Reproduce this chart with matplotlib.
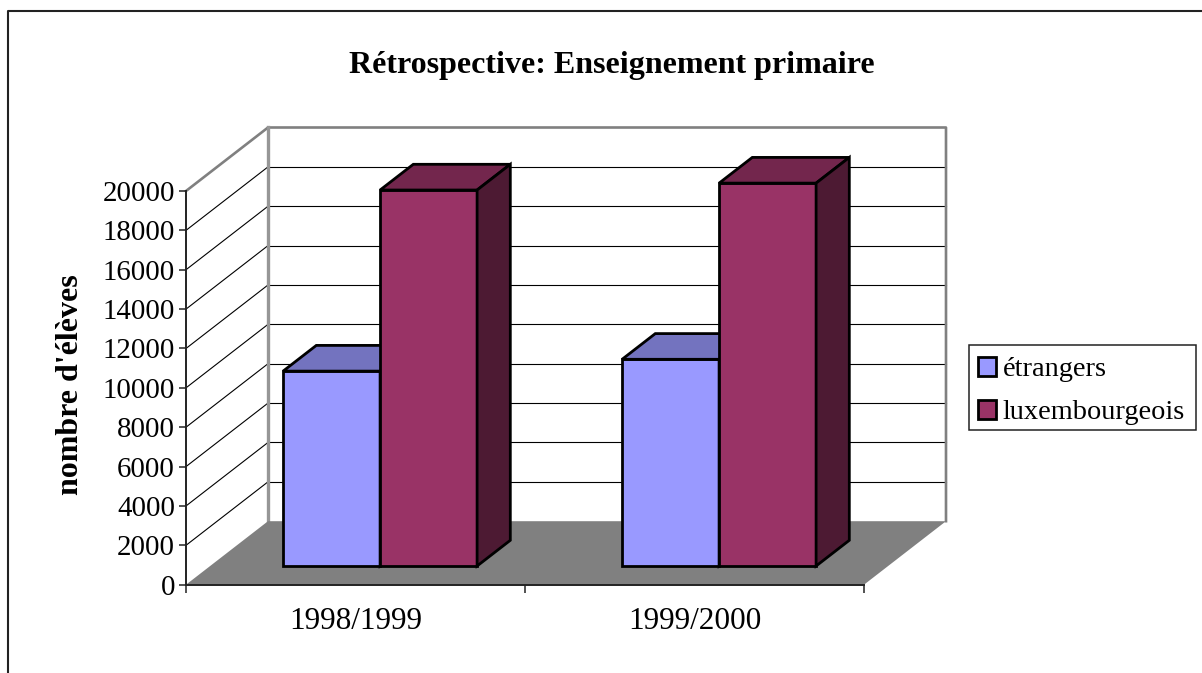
import matplotlib
matplotlib.use('Agg')
import matplotlib.pyplot as plt
from matplotlib.patches import Patch, Rectangle
from matplotlib.lines import Line2D

plt.rcParams['font.family'] = ['Liberation Serif', 'DejaVu Serif']

categories = ['1998/1999', '1999/2000']
etrangers = [9900, 10500]
luxembourgeois = [19100, 19450]
y_ticks = [0, 2000, 4000, 6000, 8000, 10000, 12000, 14000, 16000, 18000, 20000]

W, H = 1202, 673
BLUE = ('#9999FF', '#7373BF', '#4D4D80')
WINE = ('#993366', '#73264D', '#4D1A33')

# depth of the 3d box, in data units
DX = 82 / 339
DY = 63.5 / 393.7 * 20000
bar_w = 97 / 339
d_front, d_back = 0.30, 0.705

fig = plt.figure(figsize=(W / 100, H / 100), dpi=100)
ax = fig.add_axes([186 / W, 1 - 584.7 / H, 678 / W, 393.7 / H])
ax.set_xlim(0, 2)
ax.set_ylim(0, 20000)
ax.patch.set_visible(False)
for s in ['top', 'right']:
    ax.spines[s].set_visible(False)
for s in ['left', 'bottom']:
    ax.spines[s].set_color('#222222')
    ax.spines[s].set_linewidth(1.4)


def poly(xs, ys, color, **kw):
    ax.fill(xs, ys, color=color, clip_on=False, **kw)


def line(xs, ys, color='black', lw=0.8, z=1):
    ax.plot(xs, ys, color=color, lw=lw, clip_on=False, zorder=z, solid_capstyle='projecting')


# grid on side wall and back wall
for v in y_ticks[1:-1]:
    line([0, DX], [v, v + DY])
    line([DX, 2 + DX], [v + DY, v + DY])

# box outline
line([0, DX, 2 + DX, 2 + DX], [20000, 20000 + DY, 20000 + DY, DY], '#808080', 1.9, 1.5)
line([DX, DX], [DY, 20000 + DY], '#969696', 2.4, 1.5)

# floor
poly([0, 2, 2 + DX, DX], [0, 0, DY, DY], '#808080', zorder=1.8, lw=0)


def bar3d(x, h, cols):
    x0 = x
    x1 = x + bar_w
    y0 = d_front * DY - 18
    off_x = (d_back - d_front) * DX
    off_y = (d_back - d_front) * DY
    ec = dict(edgecolor='black', linewidth=2, joinstyle='miter', clip_on=False, zorder=3)
    ax.bar(x0, h, bar_w, bottom=y0, align='edge', color=cols[0], **ec)
    ax.fill([x0, x1, x1 + off_x, x0 + off_x], [y0 + h, y0 + h, y0 + h + off_y, y0 + h + off_y],
            facecolor=cols[1], **ec)
    ax.fill([x1, x1 + off_x, x1 + off_x, x1], [y0, y0 + off_y, y0 + h + off_y, y0 + h],
            facecolor=cols[2], **ec)


for i in range(len(categories)):
    left = i + 0.5 + d_front * DX - bar_w
    bar3d(left, etrangers[i], BLUE)
    bar3d(left + bar_w, luxembourgeois[i], WINE)

ax.set_yticks(y_ticks)
ax.set_yticklabels([str(v) for v in y_ticks], fontsize=20.8)
ax.set_xticks([0, 1, 2])
ax.set_xticklabels([])
ax.tick_params(axis='y', length=5, width=1.1, color='#222222', pad=3)
ax.tick_params(axis='x', length=6, width=1.1, color='#222222')
for i, c in enumerate(categories):
    ax.annotate(c, (i + 0.5, 0), xytext=(0, -26.5), xycoords='data', textcoords='offset points',
                ha='center', va='center', fontsize=22.5)

fig.text(612 / W, 1 - 66 / H, 'Rétrospective: Enseignement primaire', ha='center', va='center',
         fontsize=23, fontweight='bold')
fig.text(71 / W, 1 - 385 / H, "nombre d'élèves", rotation=90, ha='center', va='center',
         fontsize=23, fontweight='bold')

# legend frame drawn apart so its height can follow the reference
fig.add_artist(Rectangle((969.5 / W, 1 - 430 / H), 226.5 / W, 85.3 / H, transform=fig.transFigure,
                         facecolor='white', edgecolor='#222222', linewidth=1.1))
handles = [Patch(facecolor=BLUE[0], edgecolor='black', linewidth=2, label='étrangers'),
           Patch(facecolor=WINE[0], edgecolor='black', linewidth=2, label='luxembourgeois')]
fig.legend(handles=handles, loc='upper left', bbox_to_anchor=(977.5 / W, 1 - 356.5 / H),
           borderaxespad=0, fontsize=20.4, frameon=False, handlelength=0.66, handleheight=0.66,
           handletextpad=0.22, borderpad=0, labelspacing=0.63)

# outer frame runs off the right and bottom of the image
fig.add_artist(Line2D([8 / W, 8 / W, 1], [0, 1 - 11 / H, 1 - 11 / H], color='#222222', lw=1.5))

fig.savefig('out.png', dpi=100)
